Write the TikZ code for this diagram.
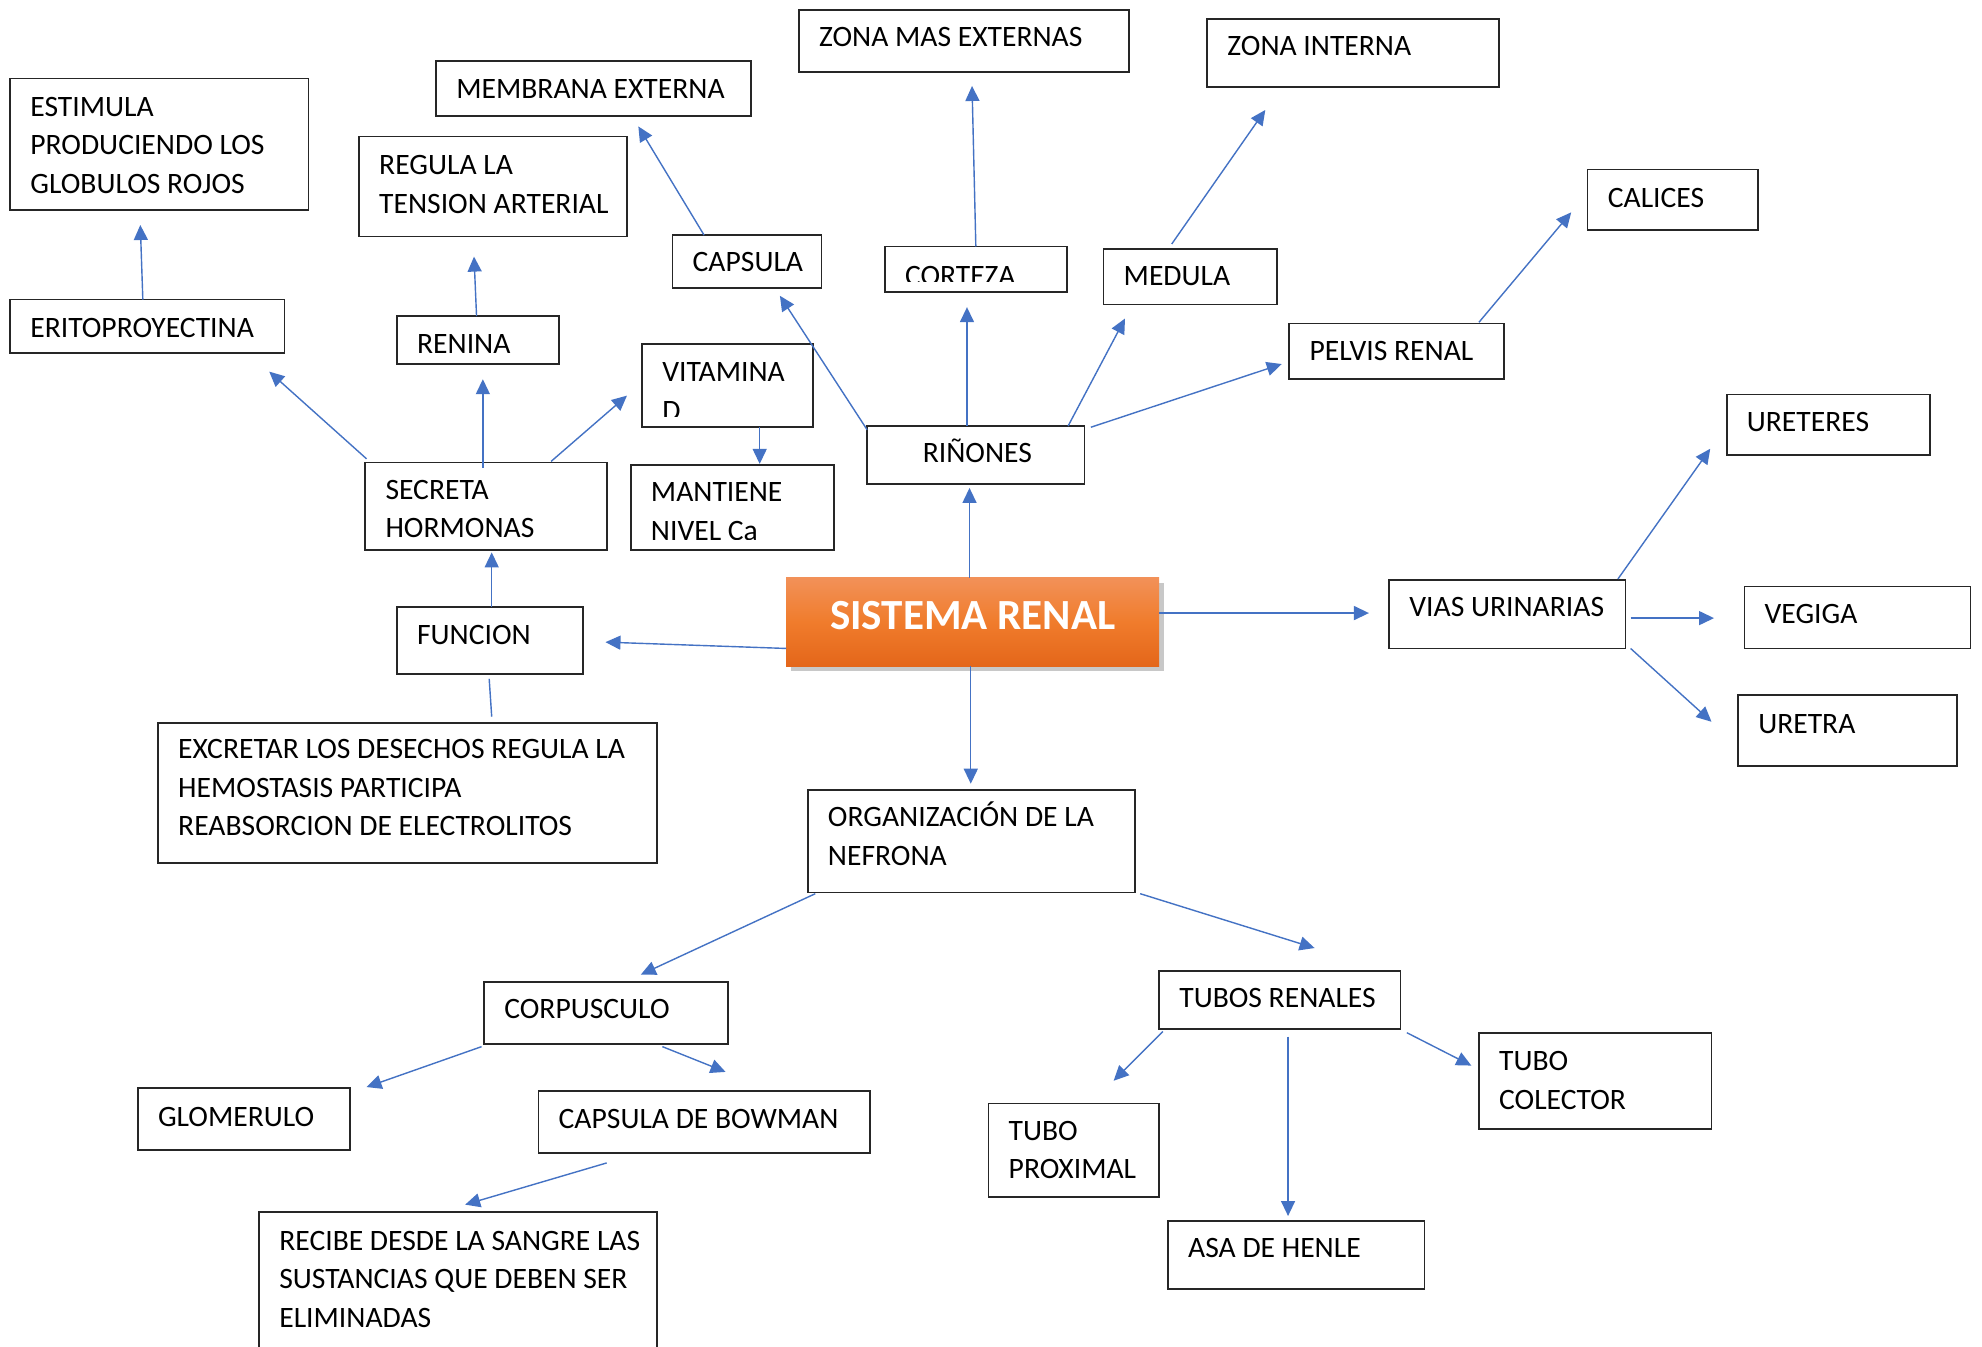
\documentclass[tikz,border=0pt]{standalone}
\usepackage{fontspec}
\setmainfont{Carlito}
\usetikzlibrary{arrows.meta,calc,shadows}
\definecolor{lnblue}{HTML}{4472C4}
\definecolor{bordc}{HTML}{262626}
\definecolor{orT}{HTML}{F29158}
\definecolor{orM}{HTML}{F07C2C}
\definecolor{orB}{HTML}{E4661A}
\newcommand\bx[8]{%
  \node[box, minimum width={(#4-#2)*0.632pt}, minimum height={(#5-#3)*0.632pt},
    path picture={%
      \clip ($(path picture bounding box.south west)+(0,-8.5)$) rectangle (path picture bounding box.north east);
      \node[txt] (#1-t) at ($(path picture bounding box.north west)+(#6,#7)$) {#8};
    }] (#1) at (#2,#3) {};}
\begin{document}
\begin{tikzpicture}[x=0.632pt,y=-0.632pt,
  box/.style={draw=bordc, line width=0.85pt, inner sep=0pt, outer sep=0pt, anchor=north west, fill=white},
  txt/.style={anchor=base west, inner sep=0pt, minimum width=0pt, minimum height=0pt, draw=none, fill=none,
    text width=14cm, align=left, font=\fontsize{14.8pt}{19.3pt}\selectfont, text=black,
    execute at begin node={\spaceskip=0pt\xspaceskip=0pt\relax}},
  arr/.style={draw=lnblue, line width=0.7pt, -{Triangle[length=7.5pt,width=7pt]}},
  plain/.style={draw=lnblue, line width=0.7pt},
  titlebox/.style={anchor=north west, inner sep=0pt, outer sep=0pt,
    top color=orT, bottom color=orB, middle color=orM,
    drop shadow={shadow xshift=2.5pt, shadow yshift=-2.5pt, opacity=0.3, fill=black!70},
    text=white, font=\fontsize{21.5pt}{24pt}\selectfont\bfseries, text depth=6.3pt}]
\useasboundingbox (0,0) rectangle (1568,1065);
\fill[white] (0,0) rectangle (1568,1065);

% boxes
\bx{estim}{8}{62}{244}{166}{16}{30}{ESTIMULA\\PRODUCIENDO LOS\\GLOBULOS ROJOS}
\bx{erito}{8}{237}{225}{279}{16}{30}{ERITOPROYECTINA}
\bx{membr}{345}{48}{594}{92}{16}{30}{MEMBRANA EXTERNA}
\bx{regula}{284}{108}{496}{187}{16}{30}{REGULA LA\\TENSION ARTERIAL}
\bx{renina}{314}{250}{442}{288}{16}{30}{RENINA}
\bx{capsula}{532}{186}{650}{228}{16}{29}{CAPSULA}
\bx{zonaext}{632}{8}{893}{57}{16}{29}{ZONA MAS EXTERNAS}
\bx{corteza}{700}{195}{844}{231}{16}{31}{CORTEZA}
\bx{zonaint}{955}{15}{1186}{69}{16}{29}{ZONA INTERNA}
\bx{medula}{873}{197}{1010}{241}{16}{29}{MEDULA}
\bx{calices}{1256}{134}{1391}{182}{16}{30}{CALICES}
\bx{pelvis}{1020}{256}{1190}{300}{16}{29}{PELVIS RENAL}
\bx{vitamina}{508}{272}{643}{338}{16}{30}{VITAMINA\\D}
\bx{mantiene}{499}{368}{660}{435}{16}{29}{MANTIENE\\NIVEL Ca}
\bx{rinones}{686}{337}{858}{383}{44}{29}{RIÑONES}
\bx{secreta}{289}{366}{480}{435}{16}{29}{SECRETA\\HORMONAS}
\bx{funcion}{314}{480}{461}{533}{16}{30}{FUNCION}
\bx{vias}{1099}{459}{1286}{513}{16}{29}{VIAS URINARIAS}
\bx{ureteres}{1366}{312}{1527}{360}{16}{29}{URETERES}
\bx{vegiga}{1380}{464}{1559}{513}{16}{29}{VEGIGA}
\bx{uretra}{1375}{550}{1548}{606}{16}{30}{URETRA}
\bx{excretar}{125}{572}{520}{683}{16}{28}{EXCRETAR LOS DESECHOS REGULA LA\\HEMOSTASIS PARTICIPA\\REABSORCION DE ELECTROLITOS}
\bx{organiz}{639}{625}{898}{706}{16}{29}{ORGANIZACIÓN DE LA\\NEFRONA}
\bx{corpus}{383}{777}{576}{826}{16}{29}{CORPUSCULO}
\bx{tubos}{917}{768}{1108}{814}{16}{29}{TUBOS RENALES}
\bx{glom}{109}{861}{277}{910}{16}{30}{GLOMERULO}
\bx{bowman}{426}{863}{688}{912}{16}{30}{CAPSULA DE BOWMAN}
\bx{recibe}{205}{959}{520}{1085}{16}{30}{RECIBE DESDE LA SANGRE LAS\\SUSTANCIAS QUE DEBEN SER\\ELIMINADAS}
\bx{colector}{1170}{817}{1354}{893}{16}{30}{TUBO\\COLECTOR}
\bx{proximal}{782}{873}{917}{947}{16}{29}{TUBO\\PROXIMAL}
\bx{asa}{924}{966}{1127}{1020}{16}{29}{ASA DE HENLE}

\node[titlebox, minimum width={295*0.632pt}, minimum height={70*0.632pt}] (title) at (622,457) {SISTEMA RENAL};

% connectors
\draw[arr] ($(erito.north west)+(105,0)$) -- ($(estim.north west)+(103,116)$);
\draw[arr] ($(renina.north west)+(63,0)$) -- ($(regula.north west)+(91,95)$);
\draw[arr] ($(capsula.north west)+(25,0)$) -- ($(membr.north west)+(160,52)$);
\draw[arr] ($(corteza.north west)+(72,0)$) -- ($(zonaext.north west)+(137,60)$);
\draw[arr] ($(medula.north west)+(54,-4)$) -- ($(zonaint.north west)+(46,72)$);
\draw[arr] ($(pelvis.north west)+(150,-1)$) -- ($(calices.north west)+(-13,34)$);
\draw[arr] ($(rinones.north west)+(0,3)$) -- ($(capsula.north west)+(85,48)$);
\draw[arr] ($(rinones.north west)+(79,0)$) -- ($(corteza.north west)+(65,48)$);
\draw[arr] ($(rinones.north west)+(159,0)$) -- ($(medula.north west)+(17,55)$);
\draw[arr] ($(rinones.north west)+(177,1)$) -- ($(pelvis.north west)+(-6,32)$);
\draw[arr] ($(vitamina.north west)+(93,66)$) -- ($(mantiene.north west)+(102,-1)$);
\draw[arr] ($(secreta.north west)+(1,-3)$) -- ($(erito.north west)+(205,57)$);
\draw[arr] ($(secreta.north west)+(93,4)$) -- ($(renina.north west)+(68,50)$);
\draw[arr] ($(secreta.north west)+(147,-1)$) -- ($(vitamina.north west)+(-12,41)$);
\draw[arr] ($(funcion.north west)+(75,0)$) -- ($(secreta.north west)+(100,71)$);
\draw[plain] ($(funcion.north west)+(73,57)$) -- ($(excretar.north west)+(264,-5)$);
\draw[arr] ($(title.north west)+(0,56)$) -- ($(funcion.north west)+(165,28)$);
\draw[arr] ($(title.north west)+(145,0)$) -- ($(rinones.north west)+(81,49)$);
\draw[arr] ($(title.north west)+(295,28)$) -- ($(vias.north west)+(-16,26)$);
\draw[arr] ($(title.north west)+(146,70)$) -- ($(organiz.north west)+(129,-5)$);
\draw[arr] ($(vias.north west)+(181,-1)$) -- ($(ureteres.north west)+(-13,43)$);
\draw[arr] ($(vias.north west)+(191,30)$) -- ($(vegiga.north west)+(-24,25)$);
\draw[arr] ($(vias.north west)+(191,54)$) -- ($(uretra.north west)+(-21,21)$);
\draw[arr] ($(organiz.north west)+(6,82)$) -- ($(corpus.north west)+(124,-6)$);
\draw[arr] ($(organiz.north west)+(263,82)$) -- ($(tubos.north west)+(123,-18)$);
\draw[arr] ($(corpus.north west)+(-2,51)$) -- ($(glom.north west)+(181,-1)$);
\draw[arr] ($(corpus.north west)+(141,51)$) -- ($(bowman.north west)+(148,-15)$);
\draw[arr] ($(bowman.north west)+(54,57)$) -- ($(recibe.north west)+(163,-6)$);
\draw[arr] ($(tubos.north west)+(3,48)$) -- ($(proximal.north west)+(99,-18)$);
\draw[arr] ($(tubos.north west)+(102,52)$) -- ($(asa.north west)+(95,-4)$);
\draw[arr] ($(tubos.north west)+(196,49)$) -- ($(colector.north west)+(-6,26)$);
\end{tikzpicture}
\end{document}
